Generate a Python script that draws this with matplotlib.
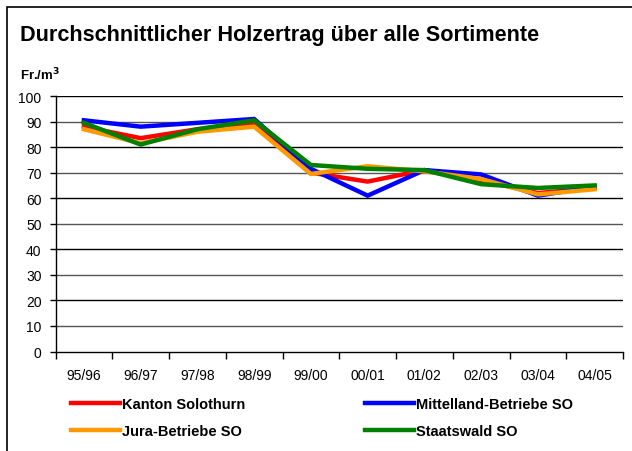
import matplotlib.pyplot as plt
from matplotlib.lines import Line2D
from matplotlib.patches import Rectangle
import numpy as np

plt.rcParams['font.family'] = ['Liberation Sans', 'DejaVu Sans']

years = ['95/96', '96/97', '97/98', '98/99', '99/00', '00/01', '01/02', '02/03', '03/04', '04/05']
kanton = [88, 83.5, 87, 89, 70, 66.5, 71, 67, 62, 64]
mittelland = [90.5, 88, 89.5, 91, 71.5, 61, 71, 69.3, 61, 64.5]
jura = [87, 81.5, 86, 88, 69.5, 72.5, 70.5, 67.5, 61.5, 63.5]
staatswald = [89.5, 81, 87, 90.5, 73, 71.5, 71, 65.5, 64, 65]

series = [('Kanton Solothurn', kanton, '#FF0000'),
          ('Mittelland-Betriebe SO', mittelland, '#0000FF'),
          ('Jura-Betriebe SO', jura, '#FF9900'),
          ('Staatswald SO', staatswald, '#008000')]

W, H = 632, 452
fig = plt.figure(figsize=(W / 100, H / 100), dpi=100)

# frame around the chart (cut off on right and bottom like the original)
fig.patches.append(Rectangle((7 / W, -0.1), 1.2, 1.1 - 8 / H, transform=fig.transFigure,
                             fill=False, edgecolor='black', linewidth=1.2))

fig.text(20 / W, 1 - 35 / H, 'Durchschnittlicher Holzertrag über alle Sortimente',
         fontsize=15.6, fontweight='bold', va='center', ha='left')
fig.text(20 / W, 1 - 75 / H, 'Fr./m$^\\mathbf{3}$', fontsize=9.5, fontweight='bold',
         va='center', ha='left')

ax = fig.add_axes([55.5 / W, (H - 352.5) / H, 567.5 / W, 255.5 / H])
x = np.arange(len(years))

for yv in range(10, 101, 10):
    ax.axhline(yv, color='black' if yv % 20 == 0 else '#555555', linewidth=1, zorder=1)

for name, vals, col in series:
    ax.plot(x, vals, color=col, linewidth=3.2, solid_joinstyle='miter', zorder=3)

ax.set_xlim(-0.5, len(years) - 0.5)
ax.set_ylim(0, 100)
ax.set_yticks(range(0, 101, 10))
ax.set_xticks(x)
ax.set_xticklabels(years)
ax.set_xticks(np.arange(-0.5, len(years)), minor=True)
ax.tick_params(axis='x', which='major', length=0, pad=12, labelsize=10)
ax.tick_params(axis='x', which='minor', length=5, direction='out', width=1)
ax.tick_params(axis='y', length=4, direction='out', width=1, labelsize=10, pad=6)
for s in ['top', 'right']:
    ax.spines[s].set_visible(False)
for s in ['left', 'bottom']:
    ax.spines[s].set_linewidth(1)

handles = [Line2D([], [], color=c, linewidth=3.2) for _, _, c in series]
labels = [n for n, _, _ in series]
order = [0, 2, 1, 3]
leg = fig.legend([handles[i] for i in order], [labels[i] for i in order],
                 loc='upper left', bbox_to_anchor=(58 / W, 1 - 384.5 / H), ncol=2,
                 frameon=False, handlelength=3.36, handletextpad=0.14,
                 columnspacing=8.2, labelspacing=0.94,
                 prop={'weight': 'bold', 'size': 10.5})

fig.savefig('out.png', dpi=100)
